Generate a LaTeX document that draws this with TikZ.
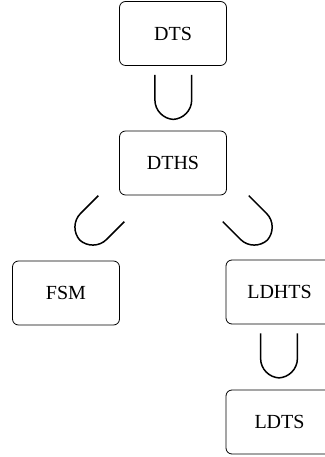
\documentclass[tikz,border=0pt]{standalone}
\usepackage{fontspec}
\setmainfont{Liberation Serif}
\usetikzlibrary{calc}
\begin{document}
\begin{tikzpicture}[x=1pt,y=1pt,
  box/.style={draw, rounded corners=6pt, minimum width=107pt, minimum height=64pt,
    inner sep=0pt, line width=0.8pt, font=\fontsize{20}{24}\selectfont},
  cupline/.style={line width=1.5pt, line join=round},
  cup/.pic={\draw[cupline] (-18.4,0) -- (-18.4,-25)
     .. controls (-18.4,-36) and (-9.5,-44) .. (0,-44.5)
     .. controls (9.5,-44) and (18.4,-36) .. (18.4,-25) -- (18.4,0);}]
\useasboundingbox (0,0) rectangle (324,457);
\node[box] (dts) at (173,423.5) {DTS};
\node[box] (dths) at (173,294) {DTHS};
\node[box] (fsm) at (66,164) {FSM};
\node[box] (ldhts) at (279.5,165) {LDHTS};
\node[box] (ldts) at (279.5,35) {LDTS};
\coordinate (c1) at ($(dts.south)+(0.3,-9)$);
\coordinate (c2) at (111.3,248.3);
\coordinate (c3) at (235.8,248.3);
\coordinate (c4) at ($(ldhts.south)+(-0.5,-9)$);
\pic at (c1) {cup};
\pic[rotate=-45] at (c2) {cup};
\pic[rotate=45] at (c3) {cup};
\pic at (c4) {cup};
\end{tikzpicture}
\end{document}
